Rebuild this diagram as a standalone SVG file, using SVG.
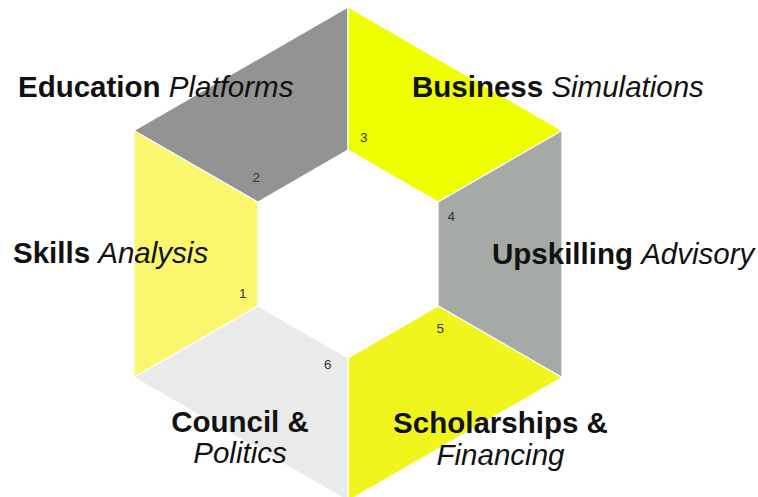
<svg xmlns="http://www.w3.org/2000/svg" width="758" height="497" viewBox="0 0 758 497">
<style>
.seg{stroke:#ffffff;stroke-width:1.2;stroke-linejoin:miter}
.t{font-family:"Liberation Sans",Arial,sans-serif;font-size:29.5px;fill:#111111}
.b{font-weight:bold}
.i{font-style:italic}
.n{font-family:"Liberation Sans",Arial,sans-serif;font-size:13.5px;fill:#333333}
</style>
<rect width="758" height="497" fill="#ffffff"/>
<g id="seg1-skills">
<polygon class="seg" fill="#FAF76E" points="134,130.5 134,377.5 258,306 258,202"/>
<text class="n" x="239" y="298">1</text>
</g>
<g id="seg2-education">
<polygon class="seg" fill="#939393" points="134,130.5 348,7 348,150 258,202"/>
<text class="n" x="252.5" y="182">2</text>
</g>
<g id="seg3-business">
<polygon class="seg" fill="#EDFF00" points="348,7 562,130.5 438,202 348,150"/>
<text class="n" x="360" y="142">3</text>
</g>
<g id="seg4-upskilling">
<polygon class="seg" fill="#A5AAA6" points="562,130.5 562,377.5 438,306 438,202"/>
<text class="n" x="447.5" y="220.5">4</text>
</g>
<g id="seg5-scholarships">
<polygon class="seg" fill="#F0F51E" points="562,377.5 348,501 348,358 438,306"/>
<text class="n" x="436.5" y="333">5</text>
</g>
<g id="seg6-council">
<polygon class="seg" fill="#EAEAEA" points="348,501 134,377.5 258,306 348,358"/>
<text class="n" x="324" y="369">6</text>
</g>
<g id="labels">
<text class="t" x="18" y="97"><tspan class="b">Education</tspan> <tspan class="i">Platforms</tspan></text>
<text class="t" x="412" y="97"><tspan class="b">Business</tspan> <tspan class="i">Simulations</tspan></text>
<text class="t" x="13" y="263"><tspan class="b">Skills</tspan> <tspan class="i">Analysis</tspan></text>
<text class="t" x="492" y="264"><tspan class="b">Upskilling</tspan> <tspan class="i">Advisory</tspan></text>
<text class="t b" x="240" y="432" text-anchor="middle">Council &amp;</text>
<text class="t i" x="240" y="463" text-anchor="middle">Politics</text>
<text class="t b" x="500.5" y="433" text-anchor="middle">Scholarships &amp;</text>
<text class="t i" x="500.5" y="465" text-anchor="middle">Financing</text>
</g>
</svg>
